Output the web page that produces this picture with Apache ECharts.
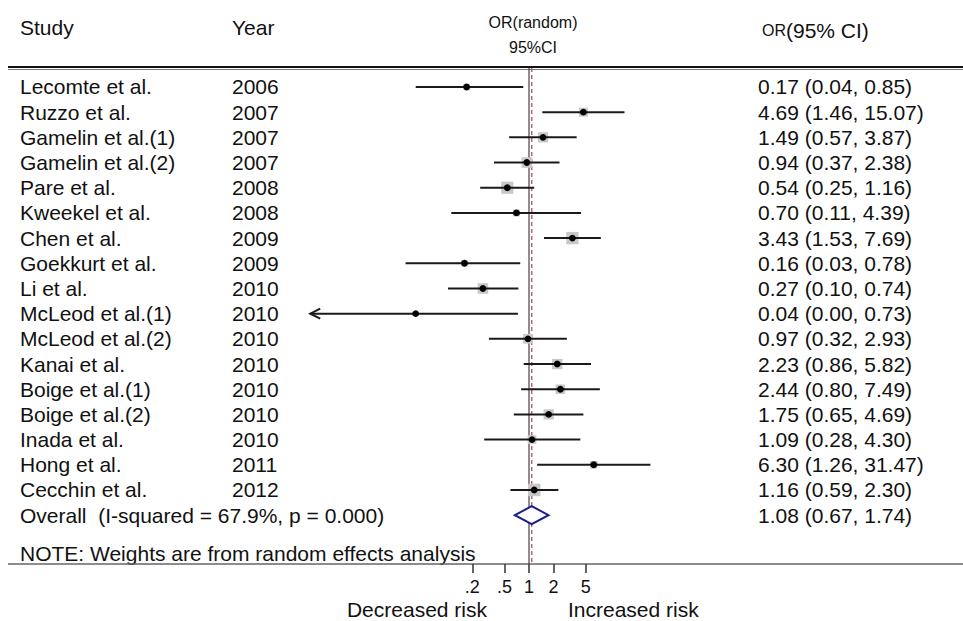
<!DOCTYPE html>
<html><head><meta charset="utf-8">
<script src="https://cdn.jsdelivr.net/npm/echarts@6/dist/echarts.min.js"></script>
<style>html,body{margin:0;padding:0;background:#fff}#c{width:963px;height:621px}</style>
</head><body><div id="c"></div>
<script>
const studies = ['Lecomte et al.','Ruzzo et al.','Gamelin et al.(1)','Gamelin et al.(2)','Pare et al.','Kweekel et al.','Chen et al.','Goekkurt et al.','Li et al.','McLeod et al.(1)','McLeod et al.(2)','Kanai et al.','Boige et al.(1)','Boige et al.(2)','Inada et al.','Hong et al.','Cecchin et al.'];
const years = ['2006','2007','2007','2007','2008','2008','2009','2009','2010','2010','2010','2010','2010','2010','2010','2011','2012'];
const orValues = [0.17,4.69,1.49,0.94,0.54,0.70,3.43,0.16,0.27,0.04,0.97,2.23,2.44,1.75,1.09,6.30,1.16];
const ciLower = [0.04,1.46,0.57,0.37,0.25,0.11,1.53,0.03,0.10,0.00,0.32,0.86,0.80,0.65,0.28,1.26,0.59];
const ciUpper = [0.85,15.07,3.87,2.38,1.16,4.39,7.69,0.78,0.74,0.73,2.93,5.82,7.49,4.69,4.30,31.47,2.30];
const weights = [4.0,5.6,6.4,6.6,7.6,4.4,7.7,4.1,6.6,2.0,6.0,6.5,5.9,6.4,5.4,4.7,7.8];
const overallLabel = 'Overall  (I-squared = 67.9%, p = 0.000)';
const overallOR = [1.08];
const overallLower = [0.67];
const overallUpper = [1.74];
const tickValues = [0.2, 0.5, 1, 2, 5];
const tickLabels = ['.2', '.5', '1', '2', '5'];

const FONT = 'Arial, "Liberation Sans", sans-serif';
const xMin = Math.log(0.002), xMax = Math.log(40);
const pxPerUnit = 35.2, zeroPx = 529;
const gridLeft = zeroPx + xMin * pxPerUnit;
const gridWidth = (xMax - xMin) * pxPerUnit;
const fmt = v => v.toFixed(2);
const orText = (o, l, h) => fmt(o) + ' (' + fmt(l) + ', ' + fmt(h) + ')';
const boxSize = w => 1.6 * w;
const txt = (text, x, y, extra) => ({type:'text', style:Object.assign({text, x, y, fontSize:21, fontFamily:FONT, fill:'#111', verticalAlign:'middle', align:'left'}, extra||{})});

function renderStudy(params, api) {
  const i = api.value(0);
  const y = api.coord([0, i])[1];
  const lo = ciLower[i] > 0 ? Math.log(ciLower[i]) : -Infinity;
  const x0 = api.coord([Math.max(lo, xMin), i])[0];
  const x1 = api.coord([Math.min(Math.log(ciUpper[i]), xMax), i])[0];
  const xc = api.coord([Math.log(orValues[i]), i])[0];
  const b = boxSize(weights[i]);
  const ch = [
    {type:'rect', shape:{x:xc-b/2, y:y-b/2, width:b, height:b}, style:{fill:'#c8c8c8'}},
    {type:'line', shape:{x1:x0, y1:y, x2:x1, y2:y}, style:{stroke:'#1a1a1a', lineWidth:2}},
    {type:'circle', shape:{cx:xc, cy:y, r:3.4}, style:{fill:'#000'}}
  ];
  if (lo < xMin) ch.push({type:'polyline', shape:{points:[[x0+10,y-5],[x0,y],[x0+10,y+5]]}, style:{stroke:'#1a1a1a', lineWidth:2, fill:null}});
  ch.push(txt(studies[i], 20, y));
  ch.push(txt(years[i], 232, y));
  ch.push(txt(orText(orValues[i], ciLower[i], ciUpper[i]), 758, y));
  return {type:'group', children:ch};
}

function renderOverall(params, api) {
  const i = api.value(0);
  const y = api.coord([0, i])[1];
  const xl = api.coord([Math.log(overallLower[0]), i])[0];
  const xc = api.coord([Math.log(overallOR[0]), i])[0];
  const xh = api.coord([Math.log(overallUpper[0]), i])[0];
  return {type:'group', children:[
    {type:'polygon', shape:{points:[[xl,y],[xc,y-9],[xh,y],[xc,y+9]]}, style:{stroke:'#1c1c8c', lineWidth:2, fill:'#fff'}},
    txt(overallLabel, 20, y),
    txt(orText(overallOR[0], overallLower[0], overallUpper[0]), 758, y)
  ]};
}

function renderRefLines(params, api) {
  const cs = params.coordSys;
  const xn = api.coord([0, 0])[0];
  const xo = api.coord([Math.log(overallOR[0]), 0])[0];
  return {type:'group', children:[
    {type:'line', shape:{x1:xn, y1:cs.y, x2:xn, y2:cs.y+cs.height}, style:{stroke:'#444', lineWidth:1.2}},
    {type:'line', shape:{x1:xo, y1:cs.y, x2:xo, y2:cs.y+cs.height}, style:{stroke:'#c06070', lineWidth:1.5, lineDash:[4,3]}}
  ]};
}

const chart = echarts.init(document.getElementById('c'), null, {renderer:'svg'});
chart.setOption({
  animation:false,
  backgroundColor:'#fff',
  grid:{left:gridLeft, width:gridWidth, top:68, height:496},
  xAxis:{type:'value', position:'bottom', min:xMin, max:xMax, axisLine:{show:false, onZero:false}, splitLine:{show:false},
    axisTick:{show:true, length:9, customValues:tickValues.map(Math.log), lineStyle:{color:'#333', width:1.5}},
    axisLabel:{customValues:tickValues.map(Math.log), margin:14, fontSize:18, fontFamily:FONT, color:'#111',
      formatter:v => { let k=0, d=1e9; tickValues.forEach((t,j)=>{const e=Math.abs(Math.log(t)-v); if(e<d){d=e;k=j;}}); return tickLabels[k]; }}},
  yAxis:{type:'value', inverse:true, min:-0.754, max:18.94, show:false},
  series:[
    {type:'custom', clip:false, z:1, renderItem:renderRefLines, data:[[0]]},
    {type:'custom', clip:false, z:2, renderItem:renderStudy, data:studies.map((s,i)=>[i])},
    {type:'custom', clip:false, z:3, renderItem:renderOverall, data:[[studies.length]]}
  ],
  graphic:[
    {type:'text', style:{text:'Study', x:20, y:27, fontSize:21, fontFamily:FONT, fill:'#111', verticalAlign:'middle'}},
    {type:'text', style:{text:'Year', x:232, y:27, fontSize:21, fontFamily:FONT, fill:'#111', verticalAlign:'middle'}},
    {type:'text', style:{text:'OR(random)', x:533, y:22, fontSize:16, fontFamily:FONT, fill:'#111', align:'center', verticalAlign:'middle'}},
    {type:'text', style:{text:'95%CI', x:533, y:47, fontSize:16, fontFamily:FONT, fill:'#111', align:'center', verticalAlign:'middle'}},
    {type:'text', style:{text:'{s|OR}(95% CI)', x:762, y:30, fontSize:21, fontFamily:FONT, fill:'#111', verticalAlign:'middle', rich:{s:{fontSize:16, fontFamily:FONT, fill:'#111'}}}},
    {type:'line', shape:{x1:8, y1:67, x2:963, y2:67}, style:{stroke:'#111', lineWidth:2.2}},
    {type:'line', shape:{x1:8, y1:69.5, x2:963, y2:69.5}, style:{stroke:'#777', lineWidth:1.2}},
    {type:'text', style:{text:'NOTE: Weights are from random effects analysis', x:20, y:553, fontSize:21, fontFamily:FONT, fill:'#111', verticalAlign:'middle'}},
    {type:'line', shape:{x1:8, y1:564, x2:963, y2:564}, style:{stroke:'#666', lineWidth:1.5}},
    {type:'text', style:{text:'Decreased risk', x:487, y:609, fontSize:21, fontFamily:FONT, fill:'#111', align:'right', verticalAlign:'middle'}},
    {type:'text', style:{text:'Increased risk', x:568, y:609, fontSize:21, fontFamily:FONT, fill:'#111', align:'left', verticalAlign:'middle'}}
  ]
});
</script></body></html>
